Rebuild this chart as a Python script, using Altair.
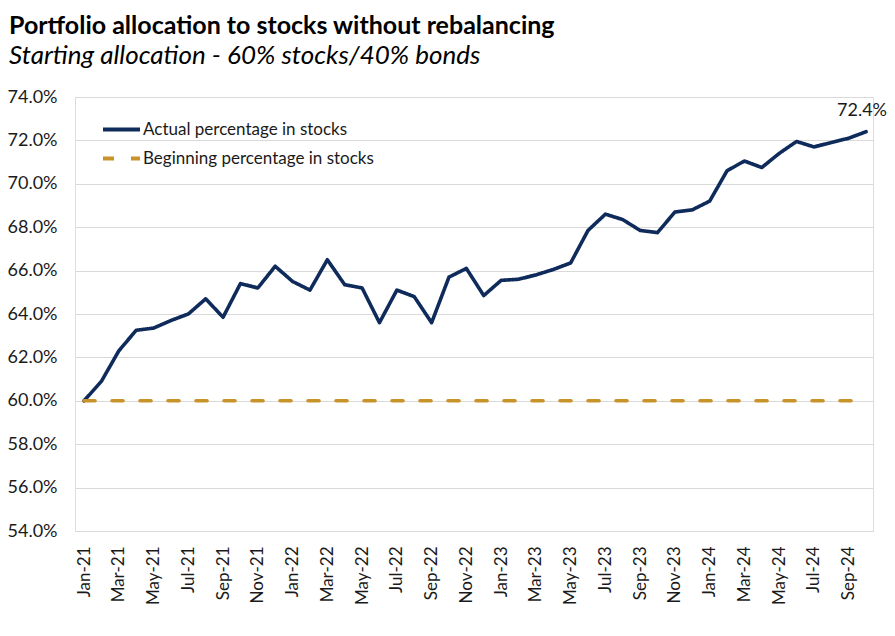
import altair as alt
import pandas as pd

# ---- data ----
months = list(pd.date_range("2021-01-01", periods=46, freq="MS").strftime("%b-%y"))
actual = [60.0, 60.9, 62.3, 63.25, 63.35, 63.7, 64.0, 64.7, 63.85, 65.4, 65.2, 66.2,
          65.5, 65.1, 66.5, 65.35, 65.2, 63.6, 65.1, 64.8, 63.6, 65.7, 66.1, 64.85,
          65.55, 65.6, 65.8, 66.05, 66.35, 67.85, 68.6, 68.35, 67.85, 67.75, 68.7, 68.8,
          69.2, 70.6, 71.05, 70.75, 71.4, 71.95, 71.7, 71.9, 72.1, 72.4]
beginning = [60.0] * 46
series_names = ["Actual percentage in stocks", "Beginning percentage in stocks"]
tick_labels = months[::2]
y_ticks = [54, 56, 58, 60, 62, 64, 66, 68, 70, 72, 74]
last_label = "72.4%"

rows = []
for i, m in enumerate(months):
    rows.append({"idx": i, "month": m, "series": series_names[0], "value": actual[i]})
for i, m in enumerate(months):
    rows.append({"idx": i, "month": m, "series": series_names[1], "value": beginning[i]})
df = pd.DataFrame(rows)
last_df = pd.DataFrame([{"idx": len(months) - 1, "value": actual[-1], "label": last_label}])

FONT = "Lato"
NAVY = "#0f2b5b"
GOLD = "#c8942a"

label_arr = "[" + ",".join("'%s'" % t for t in tick_labels) + "]"

x = alt.X("idx:Q",
          scale=alt.Scale(domain=[-0.52, 45.4], nice=False, zero=False),
          axis=alt.Axis(values=list(range(0, 46, 2)), tickCount=100,
                        labelExpr=label_arr + "[datum.value/2]",
                        labelAngle=270, grid=False, domain=False, ticks=False,
                        labelOverlap=False, labelBound=False,
                        labelPadding=15, labelFontSize=17, labelFont=FONT, labelColor="#1a1a1a",
                        title=None))
y = alt.Y("value:Q",
          scale=alt.Scale(domain=[54, 74], nice=False, zero=False),
          axis=alt.Axis(values=y_ticks, tickCount=100,
                        labelExpr="format(datum.value, '.1f') + '%'",
                        grid=True, gridColor="#d9d9d9", gridWidth=1, domain=False, ticks=False,
                        labelOverlap=False,
                        labelPadding=18, labelFontSize=18, labelFont=FONT, labelColor="#1a1a1a",
                        title=None))

lines = alt.Chart(df).mark_line(strokeWidth=3.6, strokeCap="round", strokeJoin="round").encode(
    x=x, y=y,
    color=alt.Color("series:N", scale=alt.Scale(domain=series_names, range=[NAVY, GOLD]),
                    legend=alt.Legend(title=None, orient="none", legendX=26, legendY=12,
                                      symbolType="stroke", symbolSize=1369, symbolStrokeWidth=4,
                                      labelFontSize=17, labelFont=FONT, labelColor="#1a1a1a",
                                      labelLimit=0, rowPadding=-8, labelOffset=1, padding=0)),
    strokeDash=alt.StrokeDash("series:N",
                              scale=alt.Scale(domain=series_names, range=[[1, 0], [11, 17]]),
                              legend=None),
    order=alt.Order("idx:Q"),
)

label = alt.Chart(last_df).mark_text(fontSize=18, font=FONT, color="#1a1a1a", dy=-21, dx=-4,
                                     align="center").encode(
    x=alt.X("idx:Q"), y=alt.Y("value:Q"), text="label:N")

chart = alt.layer(lines, label).properties(
    width=798, height=434,
    title=alt.Title("Portfolio allocation to stocks without rebalancing",
                    subtitle="Starting allocation - 60% stocks/40% bonds",
                    anchor="start", frame="group", dx=-66, offset=19,
                    fontSize=25, font=FONT, fontWeight="bold", color="#000000",
                    subtitleFontSize=26, subtitleFont=FONT, subtitleFontStyle="italic",
                    subtitleColor="#000000", subtitlePadding=4),
    autosize=alt.AutoSizeParams(type="none"),
    padding={"left": 67, "top": 89, "right": 14, "bottom": 90},
).configure_view(stroke=None).configure(background="white")

chart.save("out.html", embed_options={"renderer": "svg", "actions": False})
